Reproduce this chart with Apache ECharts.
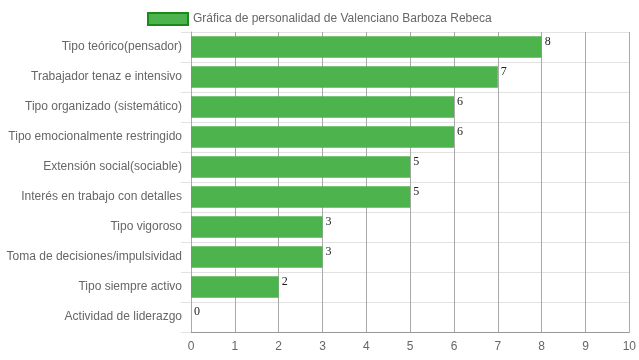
<!DOCTYPE html>
<html><head><meta charset="utf-8">
<script src="https://cdn.jsdelivr.net/npm/echarts@6/dist/echarts.min.js"></script>
<style>html,body{margin:0;padding:0;background:#fff}#c{width:639px;height:360px}</style>
</head><body><div id="c"></div>
<script>
const categories = ["Tipo teórico(pensador)","Trabajador tenaz e intensivo","Tipo organizado (sistemático)","Tipo emocionalmente restringido","Extensión social(sociable)","Interés en trabajo con detalles","Tipo vigoroso","Toma de decisiones/impulsividad","Tipo siempre activo","Actividad de liderazgo"];
const values = [8,7,6,6,5,5,3,3,2,0];
const seriesName = "Gráfica de personalidad de Valenciano Barboza Rebeca";
const chart = echarts.init(document.getElementById('c'));
chart.setOption({
  animation:false,
  textStyle:{fontFamily:'Liberation Sans, Arial, sans-serif'},
  legend:{top:7,left:142,itemWidth:40,itemHeight:12,itemGap:8,icon:'rect',
    textStyle:{color:'#666',fontSize:12,fontFamily:'Liberation Sans, Arial, sans-serif'},
    data:[{name:seriesName,itemStyle:{color:'#4db34d',borderColor:'#1a8a1a',borderWidth:2}}]},
  grid:{left:191,right:9,top:32,bottom:28,containLabel:false},
  xAxis:{type:'value',min:0,max:10,interval:1,
    axisLine:{show:true,lineStyle:{color:'#999'}},
    axisTick:{show:false},
    axisLabel:{color:'#666',fontSize:12,margin:9},
    splitLine:{show:true,lineStyle:{color:'#aaa',width:1}}},
  yAxis:{type:'category',inverse:true,data:categories,
    axisLine:{show:true,lineStyle:{color:'#aaa'}},
    axisTick:{show:true,length:10,lineStyle:{color:'#e2e2e2'}},
    axisLabel:{color:'#666',fontSize:12,margin:9},
    splitLine:{show:true,lineStyle:{color:'#e2e2e2'}}},
  series:[{type:'bar',name:seriesName,data:values,barWidth:'72%',
    itemStyle:{color:'#4db34d',borderWidth:0},
    label:{show:true,position:['100%',0],offset:[3,0],align:'left',verticalAlign:'top',
      color:'#222',fontSize:12,fontFamily:'Liberation Serif, Times New Roman, serif'}}]
});
</script></body></html>
